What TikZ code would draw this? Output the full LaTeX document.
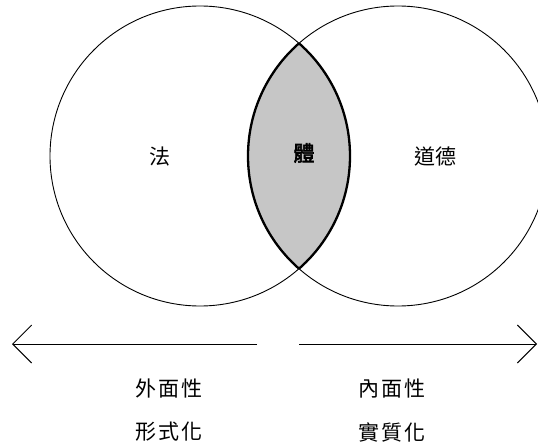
\documentclass[tikz,border=0pt]{standalone}
\usepackage{fontspec}
\usetikzlibrary{arrows.meta}
\newfontfamily\cjk{Noto Sans CJK TC}
\newfontfamily\cjkbold[FakeBold=3]{Noto Sans CJK TC}
\newfontfamily\cjkwide[LetterSpace=10]{Noto Sans CJK TC}
\begin{document}
\begin{tikzpicture}[x=1pt,y=-1pt,
  ring/.style={circle,draw,line width=0.9pt,minimum size=300pt,inner sep=0pt},
  label/.style={font=\cjk\fontsize{21}{24}\selectfont,inner sep=0pt},
  widelabel/.style={font=\cjkwide\fontsize{21}{24}\selectfont,inner sep=0pt},
  axis/.style={line width=0.9pt,-{Straight Barb[length=19pt,width=38pt,line width=0.9pt]}}]
\useasboundingbox (0,0) rectangle (538,446);
% lens fill
\begin{scope}
  \clip (200,156) circle[radius=150pt];
  \fill[gray!45] (398,156) circle[radius=150pt];
\end{scope}
% circles
\node[ring] (law) at (200,156) {};
\node[ring] (moral) at (398,156) {};
% lens outline (thicker)
\begin{scope}
  \clip (200,156) circle[radius=150pt];
  \draw[line width=2.3pt] (398,156) circle[radius=150pt];
\end{scope}
\begin{scope}
  \clip (398,156) circle[radius=150pt];
  \draw[line width=2.3pt] (200,156) circle[radius=150pt];
\end{scope}
% labels
\node[label] (fa) at (160,157) {法};
\node[label] (daode) at (435,157) {道德};
\node[label,font=\cjkbold\fontsize{21}{24}\selectfont] (li) at (304,153) {體};
% axis
\coordinate (lstart) at (257,344);
\coordinate (ltip) at (12,344);
\coordinate (rstart) at (299,344);
\coordinate (rtip) at (537,344);
\draw[axis] (lstart) -- (ltip);
\draw[axis] (rstart) -- (rtip);
% bottom labels
\node[widelabel] (wai) at (169,389) {外面性};
\node[widelabel] (xing) at (169,432) {形式化};
\node[widelabel] (nei) at (392,389) {內面性};
\node[widelabel] (shi) at (392,432) {實質化};
\end{tikzpicture}
\end{document}
